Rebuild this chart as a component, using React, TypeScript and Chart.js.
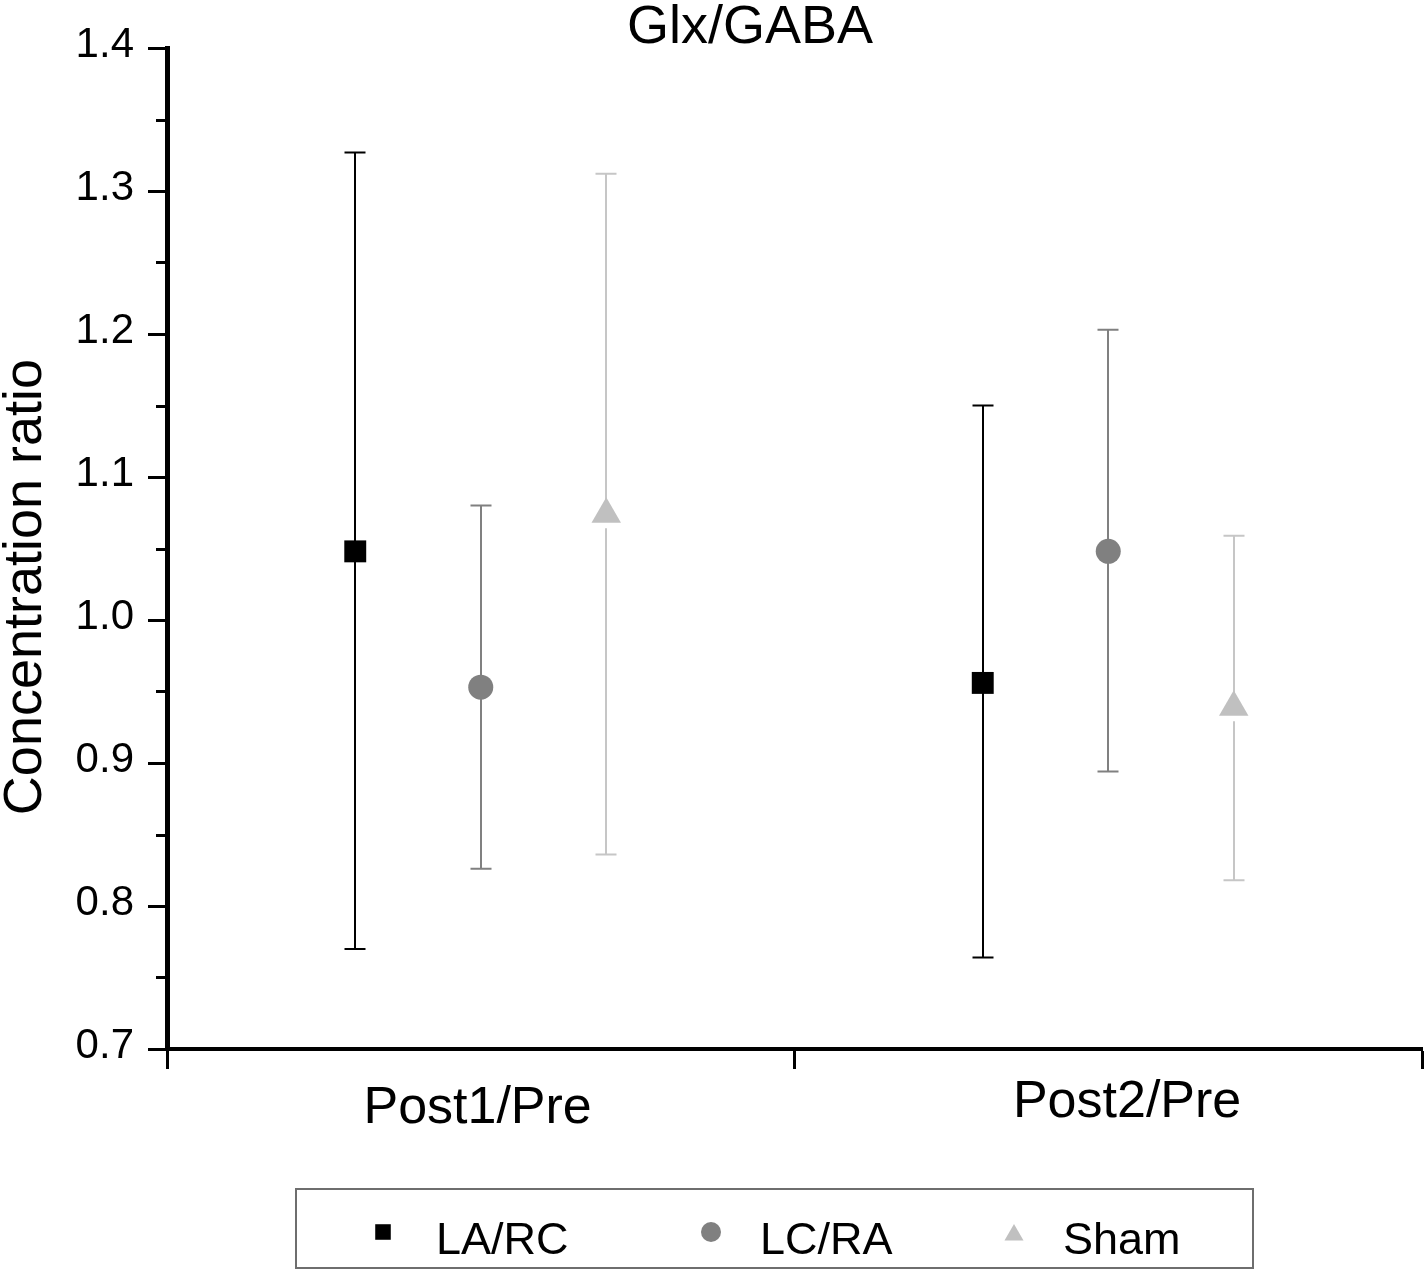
import React, { useEffect, useRef } from 'react';
import { Chart, registerables } from 'chart.js';

Chart.register(...registerables);

// ---- data ----
const categories = ['Post1/Pre', 'Post2/Pre'];
const categoryCenters = [0.5, 1.5];
const categoryLabelAnchors = [0.495, 1.53];
const seriesNames = ['LA/RC', 'LC/RA', 'Sham'];
const seriesOffsets = [-0.2, 0, 0.2];

const laRcMean = [1.048, 0.956];
const laRcUpper = [1.327, 1.150];
const laRcLower = [0.770, 0.764];

const lcRaMean = [0.953, 1.048];
const lcRaUpper = [1.080, 1.203];
const lcRaLower = [0.826, 0.894];

const shamMean = [1.074, 0.939];
const shamUpper = [1.312, 1.059];
const shamLower = [0.836, 0.818];

const yMin = 0.7;
const yMax = 1.4;
const yStep = 0.1;
const xTickValues = [0, 1, 2];

const FONT = '"Liberation Sans", Arial, Helvetica, sans-serif';

const means = [laRcMean, lcRaMean, shamMean];
const uppers = [laRcUpper, lcRaUpper, shamUpper];
const lowers = [laRcLower, lcRaLower, shamLower];
const markerStyles = ['rect', 'circle', 'triangle'];
const markerRadii = [15.5, 12.5, 17];
const markerColors = ['#000000', '#808080', '#c0c0c0'];
const errorColors = ['#000000', '#808080', '#c6c6c6'];
const gapsBelow = [0, 0, 14];
const legendRadii = [11, 10, 11];

const errorBarPlugin = {
  id: 'errorBars',
  beforeDatasetsDraw(chart: any) {
    const ctx = chart.ctx;
    const ys = chart.scales.y;
    chart.data.datasets.forEach((ds: any, i: number) => {
      const meta = chart.getDatasetMeta(i);
      ctx.save();
      ctx.strokeStyle = ds.errorColor;
      ctx.lineWidth = 2;
      const cap = 10.5;
      meta.data.forEach((pt: any, j: number) => {
        const x = Math.round(pt.x);
        const yTop = ys.getPixelForValue(ds.errUpper[j]);
        const yBot = ys.getPixelForValue(ds.errLower[j]);
        const yc = pt.y;
        ctx.beginPath();
        ctx.moveTo(x, yTop);
        ctx.lineTo(x, yc);
        ctx.moveTo(x, yc + ds.gapBelow);
        ctx.lineTo(x, yBot);
        ctx.moveTo(x - cap, yTop);
        ctx.lineTo(x + cap, yTop);
        ctx.moveTo(x - cap, yBot);
        ctx.lineTo(x + cap, yBot);
        ctx.stroke();
      });
      ctx.restore();
    });
  },
};

function drawMarker(ctx: CanvasRenderingContext2D, style: string, r: number, x: number, y: number) {
  ctx.beginPath();
  if (style === 'rect') {
    const s = Math.SQRT1_2 * r;
    ctx.rect(x - s, y - s, 2 * s, 2 * s);
  } else if (style === 'circle') {
    ctx.arc(x, y, r, 0, Math.PI * 2);
  } else {
    let rad = 0;
    ctx.moveTo(x + Math.sin(rad) * r, y - Math.cos(rad) * r);
    rad += (2 * Math.PI) / 3;
    ctx.lineTo(x + Math.sin(rad) * r, y - Math.cos(rad) * r);
    rad += (2 * Math.PI) / 3;
    ctx.lineTo(x + Math.sin(rad) * r, y - Math.cos(rad) * r);
    ctx.closePath();
  }
  ctx.fill();
}

const decorPlugin = {
  id: 'decor',
  afterDraw(chart: any) {
    const ctx = chart.ctx;
    const xs = chart.scales.x;
    const ys = chart.scales.y;
    ctx.save();
    // minor ticks on y axis
    ctx.strokeStyle = '#000';
    ctx.lineWidth = 3;
    const ticks = ys.ticks;
    for (let k = 0; k < ticks.length - 1; k++) {
      const v = (ticks[k].value + ticks[k + 1].value) / 2;
      const py = Math.round(ys.getPixelForValue(v)) + 0.5;
      ctx.beginPath();
      ctx.moveTo(chart.chartArea.left - 11, py);
      ctx.lineTo(chart.chartArea.left - 2, py);
      ctx.stroke();
    }
    // title
    ctx.fillStyle = '#000';
    ctx.font = `54px ${FONT}`;
    ctx.textAlign = 'center';
    ctx.textBaseline = 'alphabetic';
    ctx.fillText('Glx/GABA', 750, 43);
    // y title
    ctx.save();
    ctx.translate(41, 587);
    ctx.rotate(-Math.PI / 2);
    ctx.font = `54px ${FONT}`;
    ctx.fillText('Concentration ratio', 0, 0);
    ctx.restore();
    // category labels
    ctx.font = `52px ${FONT}`;
    const baselines = [1123, 1117];
    categories.forEach((c, i) => {
      ctx.fillText(c, xs.getPixelForValue(categoryLabelAnchors[i]), baselines[i]);
    });
    // legend box
    ctx.strokeStyle = '#6e6e6e';
    ctx.lineWidth = 2;
    ctx.strokeRect(296, 1189, 957, 79);
    const markerX = [383, 711, 1014];
    const textX = [436, 760, 1063];
    ctx.font = `45px ${FONT}`;
    ctx.textAlign = 'left';
    chart.data.datasets.forEach((ds: any, i: number) => {
      ctx.fillStyle = ds.backgroundColor;
      drawMarker(ctx, ds.pointStyle, legendRadii[i], markerX[i], i === 2 ? 1235 : 1232);
      ctx.fillStyle = '#000';
      ctx.fillText(ds.label, textX[i], 1254);
    });
    ctx.restore();
  },
};

export default function App() {
  const ref = useRef<HTMLCanvasElement>(null);
  useEffect(() => {
    if (!ref.current) return;
    const datasets = seriesNames.map((name, s) => ({
      label: name,
      data: categoryCenters.map((c, j) => ({ x: c + seriesOffsets[s], y: means[s][j] })),
      pointStyle: markerStyles[s],
      pointRadius: markerRadii[s],
      pointHoverRadius: markerRadii[s],
      backgroundColor: markerColors[s],
      borderColor: markerColors[s],
      pointBorderWidth: 0,
      showLine: false,
      errUpper: uppers[s],
      errLower: lowers[s],
      errorColor: errorColors[s],
      gapBelow: gapsBelow[s],
    }));
    const chart = new Chart(ref.current, {
      type: 'scatter',
      data: { datasets } as any,
      options: {
        responsive: false,
        animation: false,
        devicePixelRatio: 1,
        layout: { autoPadding: false, padding: { left: 0, top: 48, right: 2, bottom: 193 } },
        plugins: { legend: { display: false }, title: { display: false }, tooltip: { enabled: false } },
        scales: {
          x: {
            type: 'linear',
            min: 0,
            max: 2,
            afterBuildTicks: (scale: any) => {
              scale.ticks = xTickValues.map((v) => ({ value: v }));
            },
            afterFit: (scale: any) => {
              scale.height = 30;
              scale.paddingLeft = 0;
              scale.paddingRight = 0;
            },
            ticks: { callback: () => '', font: { size: 1 }, padding: 0, autoSkip: false, maxRotation: 0, minRotation: 0 },
            grid: { drawOnChartArea: false, drawTicks: true, tickLength: 20, tickWidth: 3, tickColor: '#000', lineWidth: 1 },
            border: { display: true, width: 4, color: '#000' },
          },
          y: {
            type: 'linear',
            min: yMin,
            max: yMax,
            afterFit: (scale: any) => {
              scale.width = 167;
            },
            ticks: {
              stepSize: yStep,
              callback: (v: any) => Number(v).toFixed(1),
              font: { size: 42, family: FONT },
              color: '#000',
              padding: 14,
              labelOffset: -3,
            },
            grid: { drawOnChartArea: false, drawTicks: true, tickLength: 19, tickWidth: 3, tickColor: '#000', lineWidth: 1 },
            border: { display: true, width: 5, color: '#000' },
          },
        },
      } as any,
      plugins: [errorBarPlugin, decorPlugin],
    });
    return () => chart.destroy();
  }, []);
  return (
    <div style={{ position: 'absolute', left: 0, top: 0, width: 1424, height: 1272, background: '#fff' }}>
      <canvas ref={ref} width={1424} height={1272} style={{ display: 'block', width: 1424, height: 1272 }} />
    </div>
  );
}
